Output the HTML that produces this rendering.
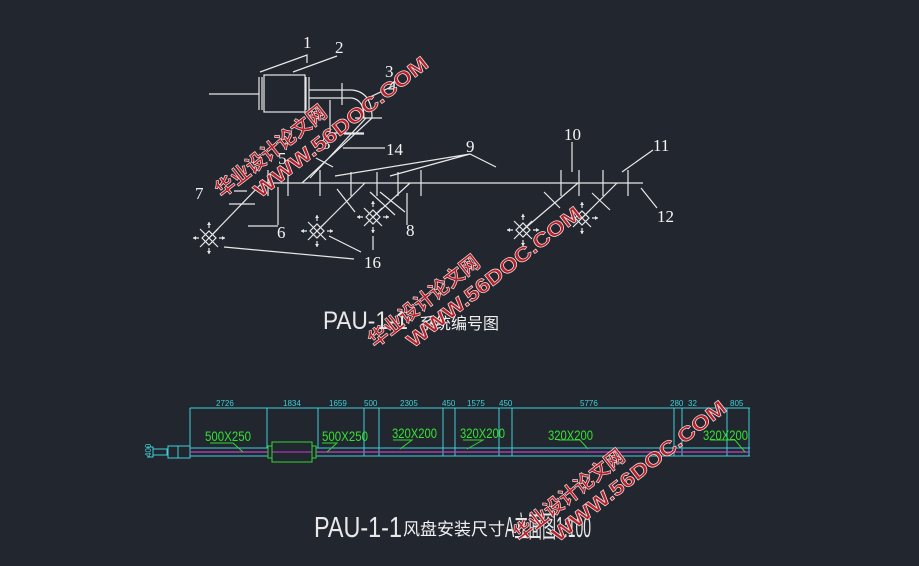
<!DOCTYPE html>
<html><head><meta charset="utf-8"><style>
html,body{margin:0;padding:0;background:#22262e;}
svg{display:block}
.w{stroke:#e8e8e8;stroke-width:1.2;fill:none}
.c{stroke:#3fd0d8;stroke-width:1;fill:none}
.g{stroke:#33d633;stroke-width:1;fill:none}
.lb{fill:#f4f4f4;font-family:"Liberation Serif",serif;font-size:17px}
.dm{fill:#3fd0d8;font-family:"Liberation Sans",sans-serif;font-size:8px}
.gt{fill:#33e033;font-family:"Liberation Sans",sans-serif;font-size:14px}
.wm{fill:#b3202a;stroke:#f0d8d8;stroke-width:0.7;font-family:"Liberation Sans","Noto Sans CJK SC",sans-serif;font-weight:bold;font-size:20px}
</style></head><body>
<svg width="919" height="566" viewBox="0 0 919 566" xmlns="http://www.w3.org/2000/svg">
<defs>
<g id="df">
<path class="w" d="M-7,0 L0,-7 L7,0 L0,7 Z M-9,-9 L9,9 M-9,9 L9,-9 M-16,0 L-10,0 M10,0 L16,0 M0,-16 L0,-10 M0,10 L0,16" stroke-width="1"/>
<path d="M-16,0 l3,-2 v4z M16,0 l-3,-2 v4z M0,-16 l-2,3 h4z M0,16 l-2,-3 h4z" fill="#e8e8e8"/>
</g>
</defs>
<rect class="w" x="264" y="75" width="41" height="37"/>
<path class="w" d="M259,77 V110 M262,77 V110 M306,77 V110 M309,77 V110 M209,94 H259 M309,90 H352 M309,98 H352 M342,83 V105"/>
<path class="w" d="M352,90 Q372,92 372,118 M352,98 Q364,100 364,118 M355,118 H382 M330,100 V133 H364"/>
<path class="w" d="M372,118 L302,183 M366,118 L310,178"/>
<path class="w" d="M262,183 H643 M262,183 L209,238 M365,183 L317,231 M410,183 L373,217 M578,183 L523,230 M617,183 L582,218"/>
<path class="w" d="M268,170 V196 M288,170 V196 M320,170 V196 M351,172 V196 M377,172 V196 M398,172 V196 M421,170 V196 M561,170 V196 M579,170 V196 M603,170 V196 M628,170 V196"/>
<path class="w" d="M337,189 L355,212 M370,192 L395,215 M380,192 L405,212 M544,192 L560,208 M592,193 L610,210"/>
<path class="w" d="M260,72 L307,55 L307,63 M293,72 L337,56 M368,98 L393,86 M344,134 L364,134 M343,148 L385,148 M316,158 L333,167 M335,176 L470,154 L496,167 M390,176 L470,154 M572,142 V172 M622,172 L653,150 M641,188 L657,208 M247,191 H234 M229,204 H255 M248,226 H278 M278,187 V225 M407,193 V225 M373,236 V250 M329,236 L361,252 M224,247 L354,259"/>
<use href="#df" x="209" y="238"/><use href="#df" x="317" y="231"/><use href="#df" x="373" y="217"/><use href="#df" x="523" y="230"/><use href="#df" x="582" y="218"/>
<text class="lb" x="303" y="48">1</text><text class="lb" x="335" y="53">2</text><text class="lb" x="385" y="77">3</text><text class="lb" x="388" y="92">4</text><text class="lb" x="322" y="149">3</text><text class="lb" x="386" y="155">14</text><text class="lb" x="278" y="164">5</text><text class="lb" x="466" y="152">9</text><text class="lb" x="564" y="140">10</text><text class="lb" x="653" y="151">11</text><text class="lb" x="657" y="222">12</text><text class="lb" x="195" y="199">7</text><text class="lb" x="277" y="238">6</text><text class="lb" x="406" y="236">8</text><text class="lb" x="364" y="268">16</text>
<text x="323" y="329" fill="#e8e8e8" font-family="Liberation Sans,sans-serif" font-weight="300" font-size="25" textLength="85" lengthAdjust="spacingAndGlyphs">PAU-1-1</text>
<text x="419" y="329" fill="#f0f0f0" font-family="'Noto Sans CJK SC',sans-serif" font-size="16">系统编号图</text>
<path class="c" d="M190,408 H750 M190,408 V456 M267,408 V448 M318,408 V448 M364,408 V456 M379,408 V456 M443,408 V456 M455,408 V456 M499,408 V456 M512,408 V456 M674,408 V456 M682,408 V456 M727,408 V456 M749,408 V456"/>
<path class="c" d="M190,448 H268 M316,448 H750 M190,456 H268 M316,456 H750 M168,446 H190 V458 H168 Z M178,446 V458 M153,449 H167 V455 H153 Z M147,447 H153 V457 H147"/>
<path d="M190,452 H268 M316,452 H750" stroke="#c040d0" stroke-width="1.2"/>
<rect class="g" x="272" y="442" width="40" height="20"/>
<path d="M272,452 H312" stroke="#c040d0"/>
<path class="g" d="M268,446 H272 V458 H268 Z M312,446 H316 V458 H312 Z M210,443 H233 L243,452 M322,443 H337 L327,452 M393,440 H412 L400,449 M463,440 H483 L467,449 M558,440 H580 L588,449 M710,440 H735 L745,452"/>
<text class="dm" x="140" y="458" transform="rotate(-90 145 452)">400</text>
<text class="dm" x="216" y="406">2726</text><text class="dm" x="283" y="406">1834</text><text class="dm" x="329" y="406">1659</text><text class="dm" x="364" y="406">500</text><text class="dm" x="400" y="406">2305</text><text class="dm" x="442" y="406">450</text><text class="dm" x="467" y="406">1575</text><text class="dm" x="499" y="406">450</text><text class="dm" x="580" y="406">5776</text><text class="dm" x="670" y="406">280</text><text class="dm" x="688" y="406">32</text><text class="dm" x="730" y="406">805</text>
<text class="gt" x="205" y="441" textLength="46" lengthAdjust="spacingAndGlyphs">500X250</text>
<text class="gt" x="322" y="441" textLength="46" lengthAdjust="spacingAndGlyphs">500X250</text>
<text class="gt" x="392" y="438" textLength="45" lengthAdjust="spacingAndGlyphs">320X200</text>
<text class="gt" x="460" y="438" textLength="45" lengthAdjust="spacingAndGlyphs">320X200</text>
<text class="gt" x="548" y="440" textLength="45" lengthAdjust="spacingAndGlyphs">320X200</text>
<text class="gt" x="703" y="440" textLength="45" lengthAdjust="spacingAndGlyphs">320X200</text>
<text x="314" y="537" fill="#e8e8e8" font-family="Liberation Sans,sans-serif" font-size="29" textLength="88" lengthAdjust="spacingAndGlyphs">PAU-1-1</text>
<text x="403" y="535" fill="#f0f0f0" font-family="'Noto Sans CJK SC',sans-serif" font-size="17">风盘安装尺寸</text>
<text x="505" y="537" fill="#e8e8e8" font-family="Liberation Sans,'Noto Sans CJK SC',sans-serif" font-size="29" textLength="86" lengthAdjust="spacingAndGlyphs">A立面图1:100</text>
<g transform="translate(222,198) rotate(-38)"><text class="wm" x="0" y="0" textLength="135" lengthAdjust="spacingAndGlyphs">华业设计论文网</text><text class="wm" x="30" y="24" textLength="215" lengthAdjust="spacingAndGlyphs">WWW.56DOC.COM</text></g>
<g transform="translate(375,348) rotate(-38)"><text class="wm" x="0" y="0" textLength="135" lengthAdjust="spacingAndGlyphs">华业设计论文网</text><text class="wm" x="30" y="24" textLength="215" lengthAdjust="spacingAndGlyphs">WWW.56DOC.COM</text></g>
<g transform="translate(520,542) rotate(-38)"><text class="wm" x="0" y="0" textLength="135" lengthAdjust="spacingAndGlyphs">华业设计论文网</text><text class="wm" x="30" y="24" textLength="215" lengthAdjust="spacingAndGlyphs">WWW.56DOC.COM</text></g>
</svg>
</body></html>
